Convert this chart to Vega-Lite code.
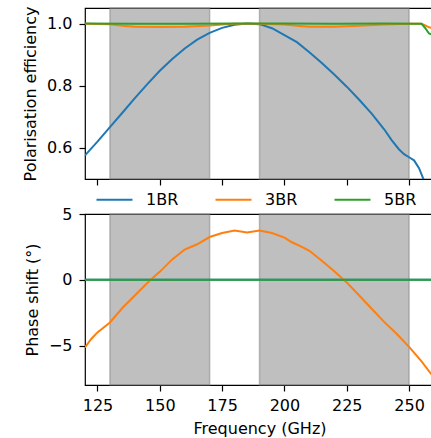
{
  "$schema": "https://vega.github.io/schema/vega-lite/v6.json",
  "padding": {"left": 21, "top": 5, "right": 0, "bottom": 0},
  "config": {
    "font": "DejaVu Sans",
    "view": {"stroke": "black", "strokeWidth": 1.2},
    "axis": {"grid": false, "domain": false, "tickColor": "black", "tickSize": 6, "tickWidth": 1.2, "labelColor": "black", "labelFontSize": 16, "titleFontSize": 16, "titleFontWeight": "normal", "titleColor": "black", "titlePadding": 8},
    "axisY": {"labelPadding": 7},
    "axisX": {"labelPadding": 6, "titlePadding": 7},
    "legend": {"orient": "none", "legendX": 10, "legendY": 172, "offset": 0, "direction": "horizontal", "symbolType": "stroke", "symbolStrokeWidth": 2.2, "symbolSize": 1296, "labelFontSize": 16, "labelColor": "black", "labelOffset": 12, "columnPadding": 32, "padding": 0, "title": null},
    "concat": {"spacing": -4}
  },
  "datasets": {
    "bands": [{"x1": 130, "x2": 170}, {"x1": 190, "x2": 250}],
    "eff": [
      {"f": 120, "s": "1BR", "v": 0.576}, {"f": 125, "s": "1BR", "v": 0.62}, {"f": 130, "s": "1BR", "v": 0.667}, {"f": 135, "s": "1BR", "v": 0.713}, {"f": 140, "s": "1BR", "v": 0.76}, {"f": 145, "s": "1BR", "v": 0.805}, {"f": 150, "s": "1BR", "v": 0.848}, {"f": 155, "s": "1BR", "v": 0.886}, {"f": 160, "s": "1BR", "v": 0.92}, {"f": 165, "s": "1BR", "v": 0.948}, {"f": 170, "s": "1BR", "v": 0.97}, {"f": 175, "s": "1BR", "v": 0.986}, {"f": 180, "s": "1BR", "v": 0.996}, {"f": 185, "s": "1BR", "v": 1.0}, {"f": 190, "s": "1BR", "v": 0.998}, {"f": 195, "s": "1BR", "v": 0.985}, {"f": 200, "s": "1BR", "v": 0.963}, {"f": 205, "s": "1BR", "v": 0.94}, {"f": 210, "s": "1BR", "v": 0.908}, {"f": 215, "s": "1BR", "v": 0.873}, {"f": 220, "s": "1BR", "v": 0.836}, {"f": 225, "s": "1BR", "v": 0.797}, {"f": 230, "s": "1BR", "v": 0.755}, {"f": 235, "s": "1BR", "v": 0.71}, {"f": 240, "s": "1BR", "v": 0.66}, {"f": 243, "s": "1BR", "v": 0.625}, {"f": 246, "s": "1BR", "v": 0.595}, {"f": 248, "s": "1BR", "v": 0.58}, {"f": 250, "s": "1BR", "v": 0.57}, {"f": 252, "s": "1BR", "v": 0.56}, {"f": 254, "s": "1BR", "v": 0.535}, {"f": 256, "s": "1BR", "v": 0.495}, {"f": 258, "s": "1BR", "v": 0.44},
      {"f": 120, "s": "3BR", "v": 0.999}, {"f": 130, "s": "3BR", "v": 0.998}, {"f": 135, "s": "3BR", "v": 0.993}, {"f": 140, "s": "3BR", "v": 0.99}, {"f": 150, "s": "3BR", "v": 0.989}, {"f": 160, "s": "3BR", "v": 0.99}, {"f": 170, "s": "3BR", "v": 0.994}, {"f": 175, "s": "3BR", "v": 0.997}, {"f": 180, "s": "3BR", "v": 0.999}, {"f": 190, "s": "3BR", "v": 0.999}, {"f": 200, "s": "3BR", "v": 0.997}, {"f": 205, "s": "3BR", "v": 0.993}, {"f": 210, "s": "3BR", "v": 0.99}, {"f": 220, "s": "3BR", "v": 0.99}, {"f": 230, "s": "3BR", "v": 0.993}, {"f": 240, "s": "3BR", "v": 0.997}, {"f": 250, "s": "3BR", "v": 0.999}, {"f": 255, "s": "3BR", "v": 0.999}, {"f": 256.5, "s": "3BR", "v": 0.994}, {"f": 258, "s": "3BR", "v": 0.988}, {"f": 260, "s": "3BR", "v": 0.985},
      {"f": 120, "s": "5BR", "v": 1.0}, {"f": 140, "s": "5BR", "v": 0.999}, {"f": 160, "s": "5BR", "v": 0.999}, {"f": 180, "s": "5BR", "v": 1.0}, {"f": 200, "s": "5BR", "v": 1.0}, {"f": 220, "s": "5BR", "v": 0.999}, {"f": 240, "s": "5BR", "v": 1.0}, {"f": 255, "s": "5BR", "v": 0.999}, {"f": 256.5, "s": "5BR", "v": 0.985}, {"f": 258, "s": "5BR", "v": 0.968}, {"f": 260, "s": "5BR", "v": 0.962}
    ],
    "phase": [
      {"f": 120, "s": "1BR", "v": 0}, {"f": 260, "s": "1BR", "v": 0},
      {"f": 120, "s": "3BR", "v": -5.15}, {"f": 122.5, "s": "3BR", "v": -4.5}, {"f": 125, "s": "3BR", "v": -4.0}, {"f": 130, "s": "3BR", "v": -3.25}, {"f": 135, "s": "3BR", "v": -2.15}, {"f": 140, "s": "3BR", "v": -1.2}, {"f": 145, "s": "3BR", "v": -0.25}, {"f": 147.5, "s": "3BR", "v": 0.2}, {"f": 150, "s": "3BR", "v": 0.6}, {"f": 155, "s": "3BR", "v": 1.55}, {"f": 160, "s": "3BR", "v": 2.3}, {"f": 165, "s": "3BR", "v": 2.7}, {"f": 170, "s": "3BR", "v": 3.25}, {"f": 175, "s": "3BR", "v": 3.55}, {"f": 180, "s": "3BR", "v": 3.75}, {"f": 185, "s": "3BR", "v": 3.6}, {"f": 190, "s": "3BR", "v": 3.75}, {"f": 195, "s": "3BR", "v": 3.55}, {"f": 200, "s": "3BR", "v": 3.2}, {"f": 203, "s": "3BR", "v": 2.85}, {"f": 207, "s": "3BR", "v": 2.5}, {"f": 210, "s": "3BR", "v": 2.2}, {"f": 215, "s": "3BR", "v": 1.45}, {"f": 220, "s": "3BR", "v": 0.65}, {"f": 225, "s": "3BR", "v": -0.2}, {"f": 230, "s": "3BR", "v": -1.2}, {"f": 235, "s": "3BR", "v": -2.2}, {"f": 240, "s": "3BR", "v": -3.2}, {"f": 245, "s": "3BR", "v": -4.1}, {"f": 250, "s": "3BR", "v": -5.1}, {"f": 255, "s": "3BR", "v": -6.2}, {"f": 259, "s": "3BR", "v": -7.2},
      {"f": 120, "s": "5BR", "v": 0}, {"f": 260, "s": "5BR", "v": 0}
    ]
  },
  "resolve": {"legend": {"color": "independent"}},
  "vconcat": [
    {
      "width": 349,
      "height": 171,
      "layer": [
        {
          "data": {"name": "bands"},
          "mark": {"type": "rect", "fill": "#808080", "fillOpacity": 0.5, "stroke": "#808080", "strokeOpacity": 0.5, "strokeWidth": 1.5},
          "encoding": {
            "x": {"field": "x1", "type": "quantitative", "scale": {"domain": [120, 260], "nice": false, "zero": false}, "axis": {"values": [125, 150, 175, 200, 225, 250], "labels": false, "title": null}},
            "x2": {"field": "x2"}
          }
        },
        {
          "data": {"name": "eff"},
          "mark": {"type": "line", "strokeWidth": 2, "clip": true},
          "encoding": {
            "x": {"field": "f", "type": "quantitative", "scale": {"domain": [120, 260], "nice": false, "zero": false}, "axis": {"values": [125, 150, 175, 200, 225, 250], "labels": false, "title": null}},
            "y": {"field": "v", "type": "quantitative", "scale": {"domain": [0.5, 1.05], "nice": false, "zero": false}, "axis": {"values": [0.6, 0.8, 1.0], "format": ".1f", "title": "Polarisation efficiency"}},
            "color": {"field": "s", "type": "nominal", "scale": {"domain": ["1BR", "3BR", "5BR"], "range": ["#1f77b4", "#ff7f0e", "#2ca02c"]}}
          }
        }
      ]
    },
    {
      "width": 349,
      "height": 171,
      "layer": [
        {
          "data": {"name": "bands"},
          "mark": {"type": "rect", "fill": "#808080", "fillOpacity": 0.5, "stroke": "#808080", "strokeOpacity": 0.5, "strokeWidth": 1.5},
          "encoding": {
            "x": {"field": "x1", "type": "quantitative", "scale": {"domain": [120, 260], "nice": false, "zero": false}, "axis": {"values": [125, 150, 175, 200, 225, 250], "title": "Frequency (GHz)"}},
            "x2": {"field": "x2"}
          }
        },
        {
          "data": {"name": "phase"},
          "mark": {"type": "line", "strokeWidth": 2, "clip": true},
          "encoding": {
            "x": {"field": "f", "type": "quantitative", "scale": {"domain": [120, 260], "nice": false, "zero": false}, "axis": {"values": [125, 150, 175, 200, 225, 250], "title": "Frequency (GHz)"}},
            "y": {"field": "v", "type": "quantitative", "scale": {"domain": [-8, 5], "nice": false, "zero": false}, "axis": {"values": [-5, 0, 5], "title": "Phase shift (°)"}},
            "color": {"field": "s", "type": "nominal", "scale": {"domain": ["1BR", "3BR", "5BR"], "range": ["#1f77b4", "#ff7f0e", "#2ca02c"]}, "legend": null}
          }
        }
      ]
    }
  ]
}
